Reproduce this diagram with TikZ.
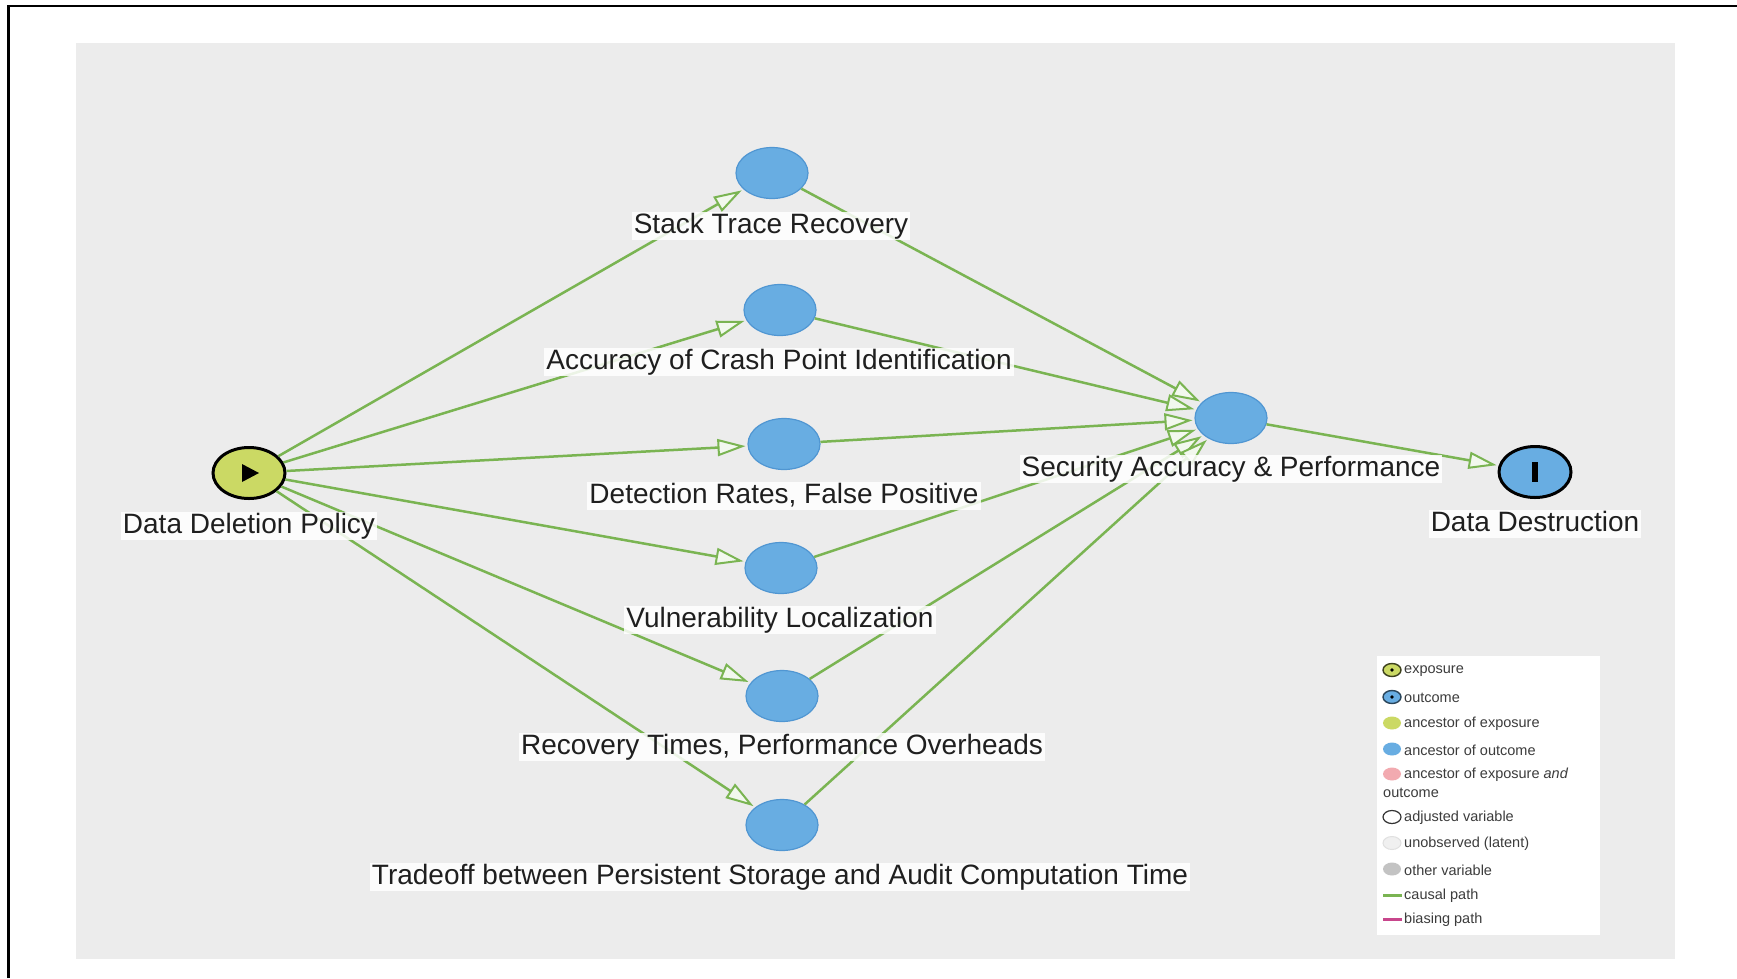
\documentclass[tikz,border=0pt]{standalone}
\usepackage{fontspec}
\setmainfont{Liberation Sans}
\usetikzlibrary{shapes.geometric,arrows.meta}

\definecolor{panel}{RGB}{236,236,236}
\definecolor{edgegreen}{RGB}{122,180,82}
\definecolor{ancout}{RGB}{104,173,226}
\definecolor{ancoutline}{RGB}{80,150,210}
\definecolor{expfill}{RGB}{203,217,100}
\definecolor{pinkfill}{RGB}{242,170,176}
\definecolor{latent}{RGB}{240,240,240}
\definecolor{othervar}{RGB}{195,195,195}
\definecolor{biasing}{RGB}{200,70,140}
\definecolor{legtext}{RGB}{60,60,60}

\begin{document}
\begin{tikzpicture}[x=1pt,y=-1pt,
  var/.style={ellipse, minimum width=72pt, minimum height=51pt, inner sep=0pt,
    fill=ancout, draw=ancoutline, line width=1.2pt},
  expo/.style={var, fill=expfill, draw=black, line width=3pt},
  outc/.style={var, draw=black, line width=3pt},
  lbl/.style={fill=white, fill opacity=0.85, text opacity=1, inner xsep=2pt,
    inner ysep=1pt, text height=20pt, text depth=6pt,
    font=\fontsize{28}{32}\selectfont, text=black!88},
  causal/.style={draw=edgegreen, line width=2.5pt, shorten >=2pt,
    -{Triangle[length=28pt, width=17pt, fill=white!90!edgegreen, line width=2pt]}},
  legicon/.style={ellipse, minimum width=18pt, minimum height=13pt, inner sep=0pt},
  legtxt/.style={anchor=west, inner sep=0pt, text=legtext,
    font=\fontsize{14.5}{16}\selectfont},
]
\useasboundingbox (0,0) rectangle (1737,978);

% page frame and canvas
\fill[white] (0,0) rectangle (1737,978);
\draw[black, line width=2.5pt] (8.3,978) -- (8.3,6) -- (1737,6);
\fill[panel] (76,43) rectangle (1675,959);

% variables
\node[expo] (ddp) at (249,473) {};
\fill[black] (ddp.center) ++(-7,-9) -- ++(0,18) -- ++(17,-9) -- cycle;
\node[var] (str) at (772,173) {};
\node[var] (acp) at (780,310) {};
\node[var] (det) at (784,444) {};
\node[var] (vul) at (781,568) {};
\node[var] (rec) at (782,696) {};
\node[var] (tra) at (782,825) {};
\node[var] (sec) at (1231,418) {};
\node[outc] (des) at (1535,472) {};
\fill[black] (1532,462) rectangle (1538,482);

% causal paths
\draw[causal] (ddp) -- (str);
\draw[causal] (ddp) -- (acp);
\draw[causal] (ddp) -- (det);
\draw[causal] (ddp) -- (vul);
\draw[causal] (ddp) -- (rec);
\draw[causal] (ddp) -- (tra);
\draw[causal] (str) -- (sec);
\draw[causal] (acp) -- (sec);
\draw[causal] (det) -- (sec);
\draw[causal] (vul) -- (sec);
\draw[causal] (rec) -- (sec);
\draw[causal] (tra) -- (sec);
\draw[causal] (sec) -- (des);

% variable names
\node[lbl] (ddp-l) at (249,526) {Data Deletion Policy};
\node[lbl] (str-l) at (771,226) {Stack Trace Recovery};
\node[lbl] (acp-l) at (779,362) {Accuracy of Crash Point Identification};
\node[lbl] (det-l) at (784,496) {Detection Rates, False Positive};
\node[lbl] (vul-l) at (780,620) {Vulnerability Localization};
\node[lbl] (rec-l) at (782,747) {Recovery Times, Performance Overheads};
\node[lbl] (tra-l) at (780,877) {Tradeoff between Persistent Storage and Audit Computation Time};
\node[lbl] (sec-l) at (1231,469) {Security Accuracy \& Performance};
\node[lbl] (des-l) at (1535,524) {Data Destruction};

% legend
\node[draw=none, fill=white, minimum width=223pt, minimum height=279pt,
  inner sep=0pt, anchor=north west] (legend) at (1377,656) {};

\node[legicon, fill=expfill, draw=black!70!expfill, line width=1.4pt] (lg-exp) at (1392,670) {};
\fill[black] (lg-exp.center) circle (1.8pt);
\node[legtxt] (lg-exp-t) at (1404,671) {exposure};

\node[legicon, fill=ancout, draw=black!60!ancout, line width=1.4pt] (lg-out) at (1392,697) {};
\fill[black] (lg-out.center) circle (1.8pt);
\node[legtxt] (lg-out-t) at (1404,698) {outcome};

\node[legicon, fill=expfill] (lg-ae) at (1392,723) {};
\node[legtxt] (lg-ae-t) at (1404,724) {ancestor of exposure};

\node[legicon, fill=ancout] (lg-ao) at (1392,749) {};
\node[legtxt] (lg-ao-t) at (1404,750) {ancestor of outcome};

\node[legicon, fill=pinkfill] (lg-ab) at (1392,774) {};
\node[legtxt] (lg-ab-t) at (1404,775) {ancestor of exposure \textit{and}};
\node[legtxt] (lg-ab-t2) at (1383,793) {outcome};

\node[legicon, fill=white, draw=black!80, line width=1.2pt] (lg-adj) at (1392,817) {};
\node[legtxt] (lg-adj-t) at (1404,818) {adjusted variable};

\node[legicon, fill=latent, draw=black!12, line width=1pt] (lg-lat) at (1392,843) {};
\node[legtxt] (lg-lat-t) at (1404,844) {unobserved (latent)};

\node[legicon, fill=othervar] (lg-oth) at (1392,869) {};
\node[legtxt] (lg-oth-t) at (1404,870) {other variable};

\coordinate (lg-c1) at (1383,895);
\coordinate (lg-c2) at (1402,895);
\draw[edgegreen, line width=3pt] (lg-c1) -- (lg-c2);
\node[legtxt] (lg-cau-t) at (1404,896) {causal path};

\coordinate (lg-b1) at (1383,919);
\coordinate (lg-b2) at (1402,919);
\draw[biasing, line width=3pt] (lg-b1) -- (lg-b2);
\node[legtxt] (lg-bia-t) at (1404,920) {biasing path};
\end{tikzpicture}
\end{document}
